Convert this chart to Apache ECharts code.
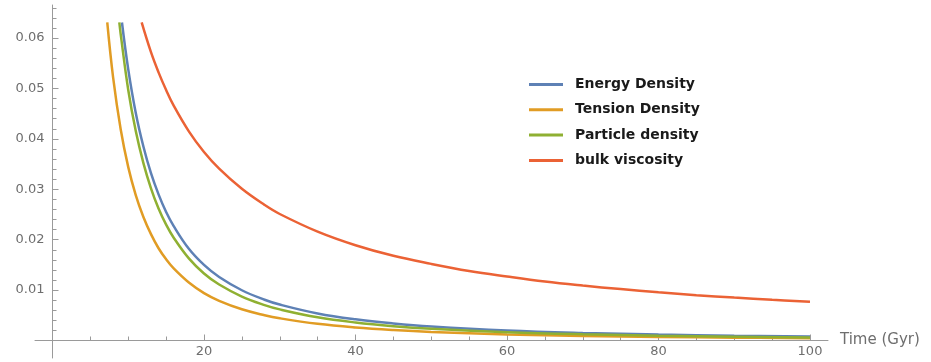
<!DOCTYPE html>
<html>
<head>
<meta charset="utf-8">
<script src="https://cdn.jsdelivr.net/npm/echarts@6/dist/echarts.min.js"></script>
<style>
  html, body { margin: 0; padding: 0; background: #fff; }
  #chart { width: 931px; height: 362px; }
</style>
</head>
<body>
<div id="chart"></div>
<script>
// values (Time in Gyr)
const energyTime = [9.17, 10, 11, 12, 13, 14, 15, 16, 18, 20, 22, 25, 28, 30, 35, 40, 45, 50, 60, 70, 80, 90, 100];
const energyDensity = [0.0631, 0.0538, 0.0451, 0.0385, 0.0332, 0.0290, 0.0255, 0.0227, 0.0182, 0.0150, 0.0126, 0.00997, 0.00809, 0.00713, 0.00537, 0.00420, 0.00338, 0.00278, 0.00199, 0.00150, 0.00117, 0.00094, 0.00078];

const tensionTime = [7.23, 8, 9, 10, 11, 12, 13, 14, 15, 16, 18, 20, 22, 25, 28, 30, 35, 40, 45, 50, 60, 70, 80, 90, 100];
const tensionDensity = [0.0631, 0.0522, 0.0419, 0.0344, 0.0288, 0.0245, 0.0211, 0.0183, 0.0161, 0.0143, 0.0115, 0.00941, 0.00788, 0.00620, 0.00502, 0.00441, 0.00331, 0.00258, 0.00207, 0.00170, 0.00121, 0.00090, 0.00071, 0.00057, 0.00046];

const particleTime = [8.82, 9, 10, 11, 12, 13, 14, 15, 16, 18, 20, 22, 25, 28, 30, 35, 40, 45, 50, 60, 70, 80, 90, 100];
const particleDensity = [0.0631, 0.0608, 0.0497, 0.0415, 0.0352, 0.0302, 0.0262, 0.0230, 0.0204, 0.0163, 0.0133, 0.0111, 0.00872, 0.00703, 0.00617, 0.00460, 0.00357, 0.00285, 0.00234, 0.00165, 0.00123, 0.00096, 0.00076, 0.00062];

const bulkTime = [11.77, 13, 14, 15, 16, 18, 20, 22, 25, 28, 30, 35, 40, 45, 50, 55, 60, 65, 70, 75, 80, 85, 90, 95, 100];
const bulkViscosity = [0.0631, 0.0572, 0.0532, 0.0497, 0.0466, 0.0415, 0.0374, 0.0341, 0.0301, 0.0269, 0.0251, 0.0216, 0.0189, 0.0168, 0.0152, 0.0138, 0.0127, 0.0117, 0.0109, 0.0102, 0.00955, 0.00900, 0.00851, 0.00807, 0.00767];

const seriesNames = ['Energy Density', 'Tension Density', 'Particle density', 'bulk viscosity'];
const colors = ['#5E81B5', '#E19C24', '#8FB032', '#EB6235'];

const axisGray = '#9a9a9a';
const labelGray = '#6e6e6e';
const font = 'DejaVu Sans';

function pairs(xs, ys) {
  return xs.map((x, i) => [x, ys[i]]);
}

const chart = echarts.init(document.getElementById('chart'), null, { renderer: 'canvas' });

const option = {
  backgroundColor: '#fff',
  animation: false,
  color: colors,
  grid: [
    // plot area: x 0..100, y 0..0.07 (top part runs off the canvas)
    { left: 52.5, right: 121, top: -12.3, bottom: 21.5, outerBoundsMode: 'none', containLabel: false },
    // only for the axis lines that run a bit past the range
    { left: 35, right: 103, top: 5, bottom: 4, outerBoundsMode: 'none', containLabel: false }
  ],
  legend: {
    data: seriesNames,
    orient: 'vertical',
    left: 524,
    top: 71.5,
    itemWidth: 34,
    itemHeight: 3,
    itemGap: 9.3,
    icon: 'rect',
    textStyle: {
      fontFamily: font,
      fontSize: 14,
      fontWeight: 'bold',
      color: '#1a1a1a',
      lineHeight: 16,
      padding: [0, 0, 0, 7]
    }
  },
  xAxis: [
    {
      gridIndex: 0,
      type: 'value',
      min: 0,
      max: 100,
      interval: 20,
      axisLine: { show: false },
      axisTick: { show: true, inside: true, length: 6, lineStyle: { color: axisGray } },
      minorTick: { show: true, splitNumber: 4, length: 4, lineStyle: { color: axisGray } },
      splitLine: { show: false },
      axisLabel: {
        margin: 5,
        color: labelGray,
        fontFamily: font,
        fontSize: 13,
        formatter: v => (v === 0 ? '' : String(v))
      }
    },
    {
      gridIndex: 1,
      type: 'value',
      min: -2.3,
      max: 102.4,
      axisLine: { show: true, onZero: true, lineStyle: { color: axisGray, width: 1 } },
      axisTick: { show: false },
      axisLabel: { show: false },
      splitLine: { show: false },
      name: 'Time (Gyr)',
      nameLocation: 'end',
      nameGap: 12,
      nameTextStyle: { color: labelGray, fontFamily: font, fontSize: 15 }
    }
  ],
  yAxis: [
    {
      gridIndex: 0,
      type: 'value',
      min: 0,
      max: 0.07,
      interval: 0.01,
      axisLine: { show: false },
      axisTick: { show: true, inside: true, length: 6, lineStyle: { color: axisGray } },
      minorTick: { show: true, splitNumber: 5, length: 4, lineStyle: { color: axisGray } },
      splitLine: { show: false },
      axisLabel: {
        margin: 8,
        color: labelGray,
        fontFamily: font,
        fontSize: 13,
        showMaxLabel: false,
        formatter: v => (v === 0 ? '' : v.toFixed(2))
      }
    },
    {
      gridIndex: 1,
      type: 'value',
      min: -0.0035,
      max: 0.0666,
      axisLine: { show: true, onZero: true, lineStyle: { color: axisGray, width: 1 } },
      axisTick: { show: false },
      axisLabel: { show: false },
      splitLine: { show: false }
    }
  ],
  series: [
    [energyTime, energyDensity],
    [tensionTime, tensionDensity],
    [particleTime, particleDensity],
    [bulkTime, bulkViscosity]
  ].map((d, i) => ({
    name: seriesNames[i],
    type: 'line',
    xAxisIndex: 0,
    yAxisIndex: 0,
    data: pairs(d[0], d[1]),
    showSymbol: false,
    symbol: 'none',
    smooth: 0.4,
    clip: true,
    lineStyle: { width: 2.5, color: colors[i] }
  }))
};

chart.setOption(option);
</script>
</body>
</html>
